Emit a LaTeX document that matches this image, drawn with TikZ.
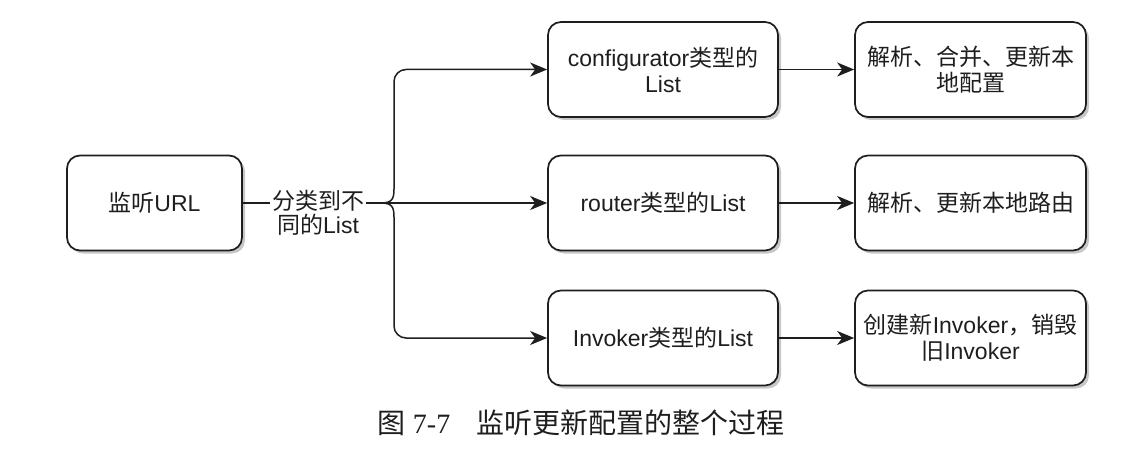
\documentclass[tikz,border=0pt]{standalone}
\usepackage{fontspec}
\setmainfont{Liberation Sans}
\newfontfamily\cjk{Noto Sans CJK SC}
\newfontfamily\capnum{Liberation Serif}
\usetikzlibrary{arrows.meta,shadows}
\definecolor{ink}{HTML}{1E1E1E}
\begin{document}
\begin{tikzpicture}[x=1pt,y=-1pt,
  box/.style={draw=ink, line width=1.7pt, rounded corners=13pt, fill=white,
    minimum height=95pt, align=center, text=ink, inner sep=2pt,
    font=\fontsize{23}{26}\selectfont,
    drop shadow={shadow xshift=3pt, shadow yshift=-3pt, fill=black!40, opacity=0.55}},
  midbox/.style={box, minimum width=230pt},
  endbox/.style={box, minimum width=231pt},
  conn/.style={draw=ink, line width=1.5pt},
  arr/.style={conn, -{Stealth[length=17pt, width=14pt, inset=5pt]}},
  lbl/.style={align=center, text=ink, inner sep=2pt, font=\fontsize{23}{24}\selectfont}
]
\useasboundingbox (0,0) rectangle (1142,454);

\node[box, minimum width=175pt] (src) at (154.5,203) {{\cjk 监听}URL};

\node[midbox] (m1) at (663,69.5) {configurator{\cjk 类型的}\\List};
\node[midbox] (m2) at (663,203) {router{\cjk 类型的}List};
\node[midbox] (m3) at (663,338) {Invoker{\cjk 类型的}List};

\node[endbox] (e1) at (970.5,69.5) {\cjk 解析、合并、更新本\\\cjk 地配置};
\node[endbox] (e2) at (970.5,203) {\cjk 解析、更新本地路由};
\node[endbox] (e3) at (970.5,338) {{\cjk 创建新}Invoker{\cjk ，销毁}\\{\cjk 旧}Invoker};

\node[lbl] (lab) at (318,213) {{\cjk 分类到不}\\{\cjk 同的}List};
\coordinate (j) at (381,203);

\draw[conn] (src.east) -- (src.east -| lab.west);
\draw[conn] (lab.east |- j) -- (j);
\draw[arr] (j) -- (m2.west);
\draw[arr] (j) .. controls (392,203) and (394,199) .. (394,189)
  {[rounded corners=12pt] -- (394,69.5) -- (m1.west)};
\draw[arr] (j) .. controls (392,203) and (394,207) .. (394,217)
  {[rounded corners=12pt] -- (394,338) -- (m3.west)};

\draw[arr] (m1.east) -- (e1.west);
\draw[arr] (m2.east) -- (e2.west);
\draw[arr] (m3.east) -- (e3.west);

\node[anchor=west, text=ink, inner sep=0pt, font=\fontsize{28}{30}\selectfont] (cap) at (377,423)
  {{\cjk 图} {\capnum 7-7}\hspace{26pt}{\cjk 监听更新配置的整个过程}};
\end{tikzpicture}
\end{document}
